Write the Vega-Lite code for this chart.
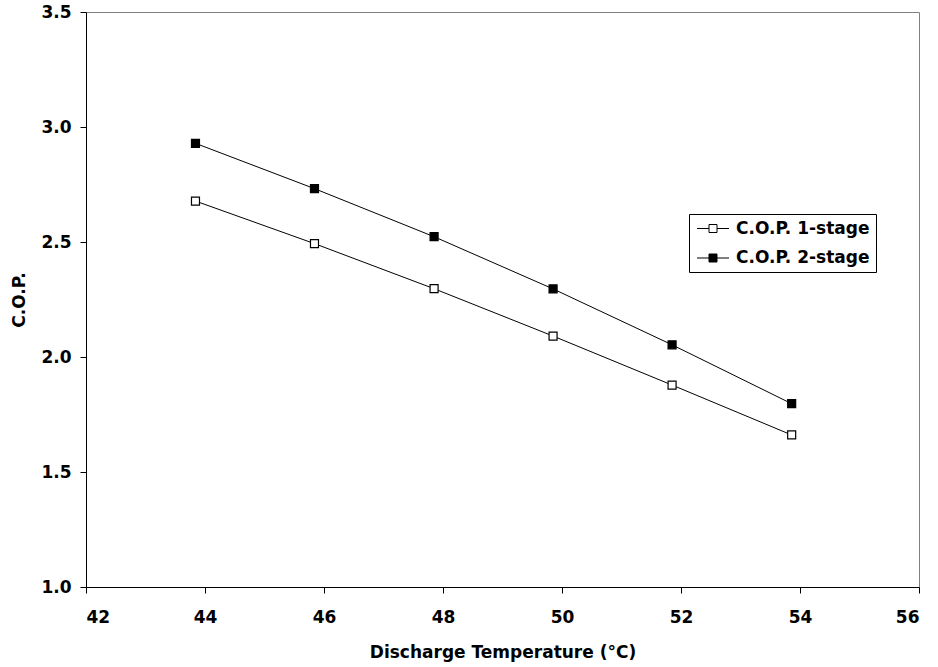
{
  "$schema": "https://vega.github.io/schema/vega-lite/v6.json",
  "autosize": {"type": "none"},
  "width": 833,
  "height": 575,
  "padding": {"left": 86, "top": 12, "right": 19, "bottom": 80},
  "background": "white",
  "config": {
    "view": {"stroke": "#808080", "strokeWidth": 1},
    "font": "DejaVu Sans"
  },
  "data": {
    "values": [
      {"series": "C.O.P. 1-stage", "temp": 43.84, "cop": 2.678},
      {"series": "C.O.P. 1-stage", "temp": 45.84, "cop": 2.493},
      {"series": "C.O.P. 1-stage", "temp": 47.85, "cop": 2.297},
      {"series": "C.O.P. 1-stage", "temp": 49.85, "cop": 2.091},
      {"series": "C.O.P. 1-stage", "temp": 51.85, "cop": 1.878},
      {"series": "C.O.P. 1-stage", "temp": 53.86, "cop": 1.661},
      {"series": "C.O.P. 2-stage", "temp": 43.84, "cop": 2.929},
      {"series": "C.O.P. 2-stage", "temp": 45.84, "cop": 2.732},
      {"series": "C.O.P. 2-stage", "temp": 47.85, "cop": 2.523},
      {"series": "C.O.P. 2-stage", "temp": 49.85, "cop": 2.296},
      {"series": "C.O.P. 2-stage", "temp": 51.85, "cop": 2.053},
      {"series": "C.O.P. 2-stage", "temp": 53.86, "cop": 1.797}
    ]
  },
  "encoding": {
    "x": {
      "field": "temp",
      "type": "quantitative",
      "scale": {"domain": [42, 56], "nice": false, "zero": false},
      "axis": {
        "values": [42, 44, 46, 48, 50, 52, 54, 56],
        "format": "d",
        "grid": false,
        "domainColor": "black",
        "tickColor": "black",
        "tickSize": 6,
        "labelFont": "DejaVu Sans",
        "labelFontSize": 17,
        "labelFontWeight": "bold",
        "labelColor": "black",
        "labelPadding": 16,
        "title": "Discharge Temperature (°C)",
        "titleFont": "DejaVu Sans",
        "titleFontSize": 17,
        "titleFontWeight": "bold",
        "titleColor": "black",
        "titlePadding": 19
      }
    },
    "y": {
      "field": "cop",
      "type": "quantitative",
      "scale": {"domain": [1.0, 3.5], "nice": false, "zero": false},
      "axis": {
        "values": [1.0, 1.5, 2.0, 2.5, 3.0, 3.5],
        "format": ".1f",
        "grid": false,
        "domainColor": "black",
        "tickColor": "black",
        "tickSize": 6,
        "labelFont": "DejaVu Sans",
        "labelFontSize": 17,
        "labelFontWeight": "bold",
        "labelColor": "black",
        "labelPadding": 9,
        "title": "C.O.P.",
        "titleFont": "DejaVu Sans",
        "titleFontSize": 17,
        "titleFontWeight": "bold",
        "titleColor": "black",
        "titlePadding": 12
      }
    }
  },
  "layer": [
    {
      "mark": {"type": "line", "color": "black", "strokeWidth": 1},
      "encoding": {"detail": {"field": "series"}}
    },
    {
      "mark": {
        "type": "point",
        "shape": "square",
        "size": 64,
        "filled": true,
        "opacity": 1,
        "fillOpacity": 1,
        "stroke": "black",
        "strokeWidth": 1.2
      },
      "encoding": {
        "fill": {
          "field": "series",
          "type": "nominal",
          "scale": {
            "domain": ["C.O.P. 1-stage", "C.O.P. 2-stage"],
            "range": ["white", "black"]
          },
          "legend": {
            "title": null,
            "orient": "none",
            "legendX": 603,
            "legendY": 202,
            "fillColor": "white",
            "strokeColor": "black",
            "cornerRadius": 0,
            "padding": 6,
            "symbolType": "M-4,0H-1M1,0H4M-1,-1H1V1H-1Z",
            "symbolSize": 64,
            "symbolStrokeColor": "black",
            "symbolStrokeWidth": 1,
            "symbolOffset": 9.5,
            "labelOffset": 14.5,
            "labelFont": "DejaVu Sans",
            "labelFontSize": 17,
            "labelFontWeight": "bold",
            "labelColor": "black",
            "rowPadding": 11.5
          }
        }
      }
    }
  ]
}
